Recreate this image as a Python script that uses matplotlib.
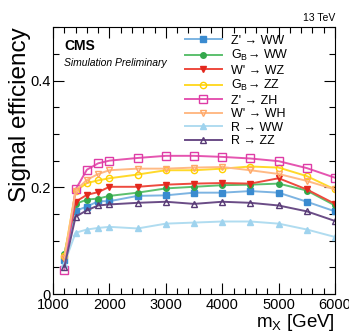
import matplotlib
matplotlib.use('Agg')
import matplotlib.pyplot as plt
from matplotlib.ticker import MultipleLocator

plt.rcParams['font.family'] = ['Liberation Sans', 'DejaVu Sans']
plt.rcParams['mathtext.fontset'] = 'custom'
plt.rcParams['mathtext.rm'] = 'Liberation Sans'
plt.rcParams['mathtext.it'] = 'Liberation Sans:italic'

masses = [1200, 1400, 1600, 1800, 2000, 2500, 3000, 3500, 4000, 4500, 5000, 5500, 6000]

zp_ww = [0.063, 0.156, 0.164, 0.174, 0.174, 0.184, 0.185, 0.190, 0.190, 0.193, 0.190, 0.173, 0.155]
gb_ww = [0.076, 0.169, 0.177, 0.179, 0.184, 0.190, 0.198, 0.201, 0.204, 0.205, 0.207, 0.194, 0.166]
wp_wz = [0.065, 0.173, 0.186, 0.191, 0.201, 0.201, 0.205, 0.207, 0.208, 0.207, 0.217, 0.196, 0.169]
gb_zz = [0.071, 0.193, 0.208, 0.213, 0.217, 0.224, 0.232, 0.232, 0.235, 0.239, 0.237, 0.221, 0.196]
zp_zh = [0.046, 0.196, 0.233, 0.245, 0.250, 0.255, 0.259, 0.259, 0.257, 0.254, 0.249, 0.236, 0.218]
wp_wh = [0.068, 0.194, 0.214, 0.225, 0.232, 0.235, 0.235, 0.237, 0.238, 0.232, 0.225, 0.212, 0.196]
r_ww = [0.057, 0.115, 0.121, 0.124, 0.126, 0.123, 0.132, 0.134, 0.136, 0.136, 0.132, 0.121, 0.107]
r_zz = [0.051, 0.145, 0.157, 0.166, 0.168, 0.171, 0.173, 0.169, 0.173, 0.171, 0.166, 0.155, 0.137]

labels = ["Z' \u2192 WW", r"G$_\mathrm{B}$" + "\u2192 WW", "W' \u2192 WZ",
          r"G$_\mathrm{B}$" + "\u2192 ZZ", "Z' \u2192 ZH", "W' \u2192 WH", "R \u2192 WW", "R \u2192 ZZ"]

# (values, line colour, marker colour, marker, filled, marker size)
styles = [
    (zp_ww, '#7db4e2', '#3a8bd0', 's', True, 4),
    (gb_ww, '#5cc06e', '#34a84c', 'o', True, 4),
    (wp_wz, '#ee4a3e', '#e3281e', 'v', True, 4),
    (gb_zz, '#ffd92a', '#ffd000', 'o', False, 4.5),
    (zp_zh, '#e555b0', '#de3ca6', 's', False, 5.5),
    (wp_wh, '#ffba85', '#ffa868', 'v', False, 4.5),
    (r_ww, '#b0dcf0', '#9fd3ee', '^', True, 4),
    (r_zz, '#6a4c86', '#573a75', '^', False, 4.5),
]

fig = plt.figure(figsize=(3.49, 3.35), dpi=100)
ax = fig.add_axes([0.152, 0.122, 0.808, 0.797])

for (vals, lc, mc, mk, filled, ms), lab in zip(styles, labels):
    ax.plot(masses, vals, color=lc, lw=1.4, marker=mk, ms=ms,
            markerfacecolor=mc if filled else 'none', markeredgecolor=mc,
            markeredgewidth=1.0, label=lab)

ax.set_xlim(1000, 6000)
ax.set_ylim(0, 0.5)
ax.xaxis.set_major_locator(MultipleLocator(1000))
ax.xaxis.set_minor_locator(MultipleLocator(200))
ax.yaxis.set_minor_locator(MultipleLocator(0.05))
ax.set_yticks([0, 0.2, 0.4])
ax.set_yticklabels(['0', '0.2', '0.4'])
ax.tick_params(which='both', direction='in', top=True, right=True, labelsize=10.5, pad=2)
ax.tick_params(which='major', length=8, width=0.8)
ax.tick_params(which='minor', length=4, width=0.8)
ax.tick_params(axis='x', pad=3)

ax.set_xlabel(r'm$_\mathrm{X}$ [GeV]', fontsize=13.5, loc='right', labelpad=0)
ax.set_ylabel('Signal efficiency', fontsize=17.5, loc='top', labelpad=-1)

ax.text(0.04, 0.93, 'CMS', transform=ax.transAxes, fontsize=10, fontweight='bold', va='center')
ax.text(0.04, 0.865, 'Simulation Preliminary', transform=ax.transAxes, fontsize=7.5,
        style='italic', va='center')
ax.text(1.0, 1.015, '13 TeV', transform=ax.transAxes, fontsize=7.5, ha='right', va='bottom')

ax.legend(loc='upper left', bbox_to_anchor=(0.44, 1.0), frameon=False, fontsize=9,
          handlelength=3.0, handletextpad=0.7, labelspacing=0.12, borderaxespad=0.2)

fig.savefig('out.png', dpi=100)
